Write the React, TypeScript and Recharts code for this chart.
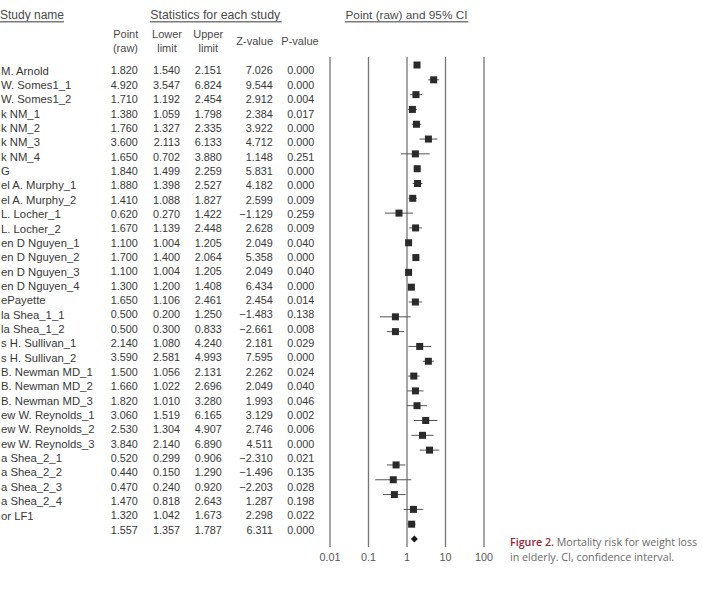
import React from 'react';
import { ScatterChart, Scatter, XAxis, YAxis, ReferenceLine, ErrorBar } from 'recharts';

const studyNames = [
  'M. Arnold', 'W. Somes1_1', 'W. Somes1_2', 'k NM_1', 'k NM_2', 'k NM_3', 'k NM_4', 'G',
  'el A. Murphy_1', 'el A. Murphy_2', 'L. Locher_1', 'L. Locher_2', 'en D Nguyen_1', 'en D Nguyen_2',
  'en D Nguyen_3', 'en D Nguyen_4', 'ePayette', 'la Shea_1_1', 'la Shea_1_2', 's H. Sullivan_1',
  's H. Sullivan_2', 'B. Newman MD_1', 'B. Newman MD_2', 'B. Newman MD_3', 'ew W. Reynolds_1',
  'ew W. Reynolds_2', 'ew W. Reynolds_3', 'a Shea_2_1', 'a Shea_2_2', 'a Shea_2_3', 'a Shea_2_4',
  'or LF1', '',
];

const points = [
  1.82, 4.92, 1.71, 1.38, 1.76, 3.6, 1.65, 1.84, 1.88, 1.41, 0.62, 1.67, 1.1, 1.7, 1.1, 1.3, 1.65,
  0.5, 0.5, 2.14, 3.59, 1.5, 1.66, 1.82, 3.06, 2.53, 3.84, 0.52, 0.44, 0.47, 1.47, 1.32, 1.557,
];

const lowerLimits = [
  1.54, 3.547, 1.192, 1.059, 1.327, 2.113, 0.702, 1.499, 1.398, 1.088, 0.27, 1.139, 1.004, 1.4, 1.004,
  1.2, 1.106, 0.2, 0.3, 1.08, 2.581, 1.056, 1.022, 1.01, 1.519, 1.304, 2.14, 0.299, 0.15, 0.24, 0.818,
  1.042, 1.357,
];

const upperLimits = [
  2.151, 6.824, 2.454, 1.798, 2.335, 6.133, 3.88, 2.259, 2.527, 1.827, 1.422, 2.448, 1.205, 2.064,
  1.205, 1.408, 2.461, 1.25, 0.833, 4.24, 4.993, 2.131, 2.696, 3.28, 6.165, 4.907, 6.89, 0.906, 1.29,
  0.92, 2.643, 1.673, 1.787,
];

const zValues = [
  '7.026', '9.544', '2.912', '2.384', '3.922', '4.712', '1.148', '5.831', '4.182', '2.599', '\u22121.129',
  '2.628', '2.049', '5.358', '2.049', '6.434', '2.454', '\u22121.483', '\u22122.661', '2.181', '7.595',
  '2.262', '2.049', '1.993', '3.129', '2.746', '4.511', '\u22122.310', '\u22121.496', '\u22122.203',
  '1.287', '2.298', '6.311',
];

const pValues = [
  '0.000', '0.000', '0.004', '0.017', '0.000', '0.000', '0.251', '0.000', '0.000', '0.009', '0.259',
  '0.009', '0.040', '0.000', '0.040', '0.000', '0.014', '0.138', '0.008', '0.029', '0.000', '0.024',
  '0.040', '0.046', '0.002', '0.006', '0.000', '0.021', '0.135', '0.028', '0.198', '0.022', '0.000',
];

const xTicks = [0.01, 0.1, 1, 10, 100];
const xTickLabels = ['0.01', '0.1', '1', '10', '100'];

const rows = studyNames.map((name, i) => ({
  row: i,
  name,
  point: points[i],
  err: [points[i] - lowerLimits[i], upperLimits[i] - points[i]],
}));
const studyData = rows.slice(0, rows.length - 1);
const summaryData = rows.slice(rows.length - 1);

const FONT = '"Liberation Sans", Arial, Helvetica, sans-serif';
const CAPTION_FONT = '"Open Sans", "Noto Sans", sans-serif';
const TEXT_COLOR = '#383838';
const HEADER_COLOR = '#4a4a4a';

const TableRow = (props: any) => {
  const { cy, payload } = props;
  const i = payload.row as number;
  const common = { y: cy, dy: '0.35em', fontFamily: FONT, fontSize: 10.8, fill: TEXT_COLOR };
  return (
    <g>
      <text {...common} x={1} fontSize={11.3} textAnchor="start">{studyNames[i]}</text>
      <text {...common} x={137.7} textAnchor="end">{points[i].toFixed(3)}</text>
      <text {...common} x={180} textAnchor="end">{lowerLimits[i].toFixed(3)}</text>
      <text {...common} x={221.7} textAnchor="end">{upperLimits[i].toFixed(3)}</text>
      <text {...common} x={272.7} textAnchor="end">{zValues[i]}</text>
      <text {...common} x={314.3} textAnchor="end">{pValues[i]}</text>
    </g>
  );
};

const SquareShape = (props: any) => {
  const { cx, cy } = props;
  const s = 7;
  return <rect x={cx - s / 2} y={cy - s / 2} width={s} height={s} fill="#2a2a2a" />;
};

const DiamondShape = (props: any) => {
  const { cx, cy } = props;
  const w = 3.5;
  const h = 3.4;
  return (
    <polygon
      points={`${cx - w},${cy} ${cx},${cy - h} ${cx + w},${cy} ${cx},${cy + h}`}
      fill="#1a1a1a"
    />
  );
};

export default function App() {
  return (
    <div style={{ position: 'absolute', left: 0, top: 0, width: 703, height: 594, background: '#fff', overflow: 'hidden' }}>
      <ScatterChart width={703} height={594} margin={{ top: 57, right: 219, bottom: 17, left: 330 }}>
        <XAxis
          dataKey="point"
          type="number"
          scale="log"
          domain={[0.01, 100]}
          ticks={xTicks}
          interval={0}
          tickFormatter={(v: number) => xTickLabels[xTicks.indexOf(v)] ?? String(v)}
          axisLine={false}
          tickLine={false}
          tickSize={0}
          tickMargin={6}
          height={30}
          tick={{ fill: '#555', fontSize: 10.8, fontFamily: FONT }}
        />
        <YAxis yAxisId="m" dataKey="row" type="number" domain={[-0.54, 32.54]} reversed hide />
        <YAxis yAxisId="t" dataKey="row" type="number" domain={[-0.955, 33.19]} reversed hide />
        {xTicks.map((v) => (
          <ReferenceLine key={v} yAxisId="m" x={v} stroke="#757575" strokeWidth={1.3} />
        ))}
        <Scatter yAxisId="t" data={rows} shape={<TableRow />} isAnimationActive={false} />
        <Scatter yAxisId="m" data={studyData} shape={<SquareShape />} isAnimationActive={false}>
          <ErrorBar dataKey="err" direction="x" width={0} stroke="#555" strokeWidth={1} />
        </Scatter>
        <Scatter yAxisId="m" data={summaryData} shape={<DiamondShape />} isAnimationActive={false} />
      </ScatterChart>
      <svg
        width={703}
        height={594}
        style={{ position: 'absolute', left: 0, top: 0, pointerEvents: 'none' }}
        fontFamily={FONT}
      >
        <g fill={HEADER_COLOR}>
          <text x={0} y={18.6} fontSize={12}>Study name</text>
          <text x={150.3} y={18.6} fontSize={12.3}>Statistics for each study</text>
          <text x={345.5} y={18.6} fontSize={11.8}>Point (raw) and 95% CI</text>
        </g>
        <g stroke="#7a7a7a" strokeWidth={1.4}>
          <line x1={0} x2={64} y1={21.7} y2={21.7} />
          <line x1={150} x2={281.7} y1={21.7} y2={21.7} />
          <line x1={345} x2={468.3} y1={21.7} y2={21.7} />
        </g>
        <g fontSize={11} fill={HEADER_COLOR}>
          <text x={138.3} y={37.6} textAnchor="end">Point</text>
          <text x={138} y={51.6} textAnchor="end">(raw)</text>
          <text x={167} y={37.6} textAnchor="middle">Lower</text>
          <text x={167} y={51.6} textAnchor="middle">limit</text>
          <text x={208.3} y={37.6} textAnchor="middle">Upper</text>
          <text x={208.3} y={51.6} textAnchor="middle">limit</text>
          <text x={254.7} y={44.8} textAnchor="middle">Z-value</text>
          <text x={300} y={44.8} textAnchor="middle">P-value</text>
        </g>
        <text x={510} y={545.5} fontSize={10.7} fill="#6a6a6a" fontFamily={CAPTION_FONT}>
          <tspan fill="#9b2335" fontWeight={600}>Figure 2.</tspan> Mortality risk for weight loss
        </text>
        <text x={510} y={560.5} fontSize={10.7} fill="#6a6a6a" fontFamily={CAPTION_FONT}>in elderly. CI, confidence interval.</text>
      </svg>
    </div>
  );
}
